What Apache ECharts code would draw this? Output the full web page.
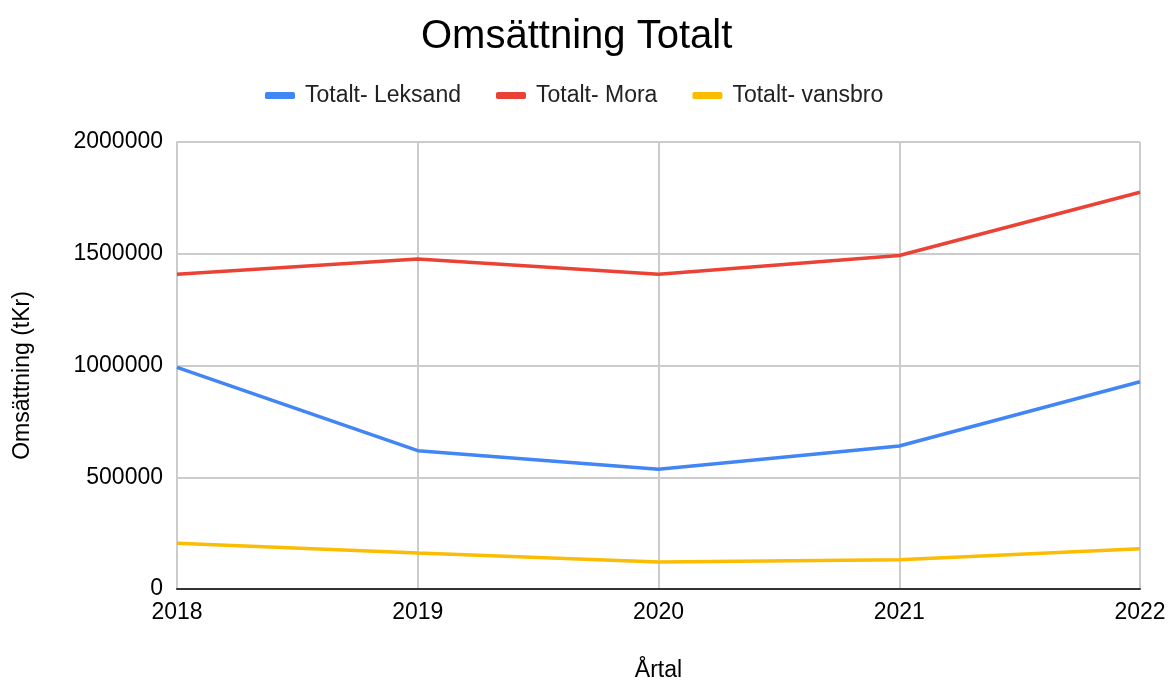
<!DOCTYPE html>
<html><head><meta charset="utf-8">
<script src="https://cdn.jsdelivr.net/npm/echarts@6/dist/echarts.min.js"></script>
<style>html,body{margin:0;padding:0;background:#fff}#c{width:1170px;height:682px}</style>
</head><body><div id="c"></div>
<script>
const years = ['2018','2019','2020','2021','2022'];
const leksand = [992000, 619000, 536000, 640000, 927000];
const mora = [1408000, 1476000, 1408000, 1492000, 1775000];
const vansbro = [205000, 161000, 121000, 131000, 180000];
const seriesNames = ['Totalt- Leksand','Totalt- Mora','Totalt- vansbro'];
const colors = ['#4285F4','#EA4335','#FBBC04'];
const font = 'Liberation Sans, Arial, sans-serif';

const chart = echarts.init(document.getElementById('c'));
const mk = (name, data, color) => ({
  name, type: 'line', data, showSymbol: false, symbol: 'none',
  lineStyle: {width: 3.5, color}, itemStyle: {color}
});
chart.setOption({
  animation: false,
  title: {text: 'Omsättning Totalt', left: 416, top: 12,
    textStyle: {fontFamily: font, fontSize: 40, fontWeight: 'normal', color: '#000'}},
  legend: {top: 79, left: 260, icon: 'roundRect', itemWidth: 30, itemHeight: 7, itemGap: 35,
    textStyle: {fontFamily: font, fontSize: 23, color: '#222', padding: [0, 0, 0, 5]}},
  grid: {left: 177, right: 30, top: 142, bottom: 93, outerBoundsMode: 'none', containLabel: false},
  xAxis: {type: 'category', data: years, boundaryGap: false,
    name: 'Årtal', nameLocation: 'middle', nameGap: 70,
    nameTextStyle: {fontFamily: font, fontSize: 23, color: '#000'},
    axisLine: {lineStyle: {color: '#333', width: 2}},
    axisTick: {show: false},
    axisLabel: {fontFamily: font, fontSize: 23, color: '#000', margin: 12},
    splitLine: {show: true, lineStyle: {color: '#ccc', width: 2}}},
  yAxis: {type: 'value', min: 0, max: 2000000, interval: 500000,
    name: 'Omsättning (tKr)', nameLocation: 'middle', nameGap: 143, nameRotate: 90,
    nameTextStyle: {fontFamily: font, fontSize: 23, color: '#000', padding: [0, 20, 0, 0]},
    axisLine: {show: true, lineStyle: {color: '#ccc', width: 2}},
    axisTick: {show: false},
    axisLabel: {fontFamily: font, fontSize: 23, color: '#000', margin: 14,
      formatter: v => String(v)},
    splitLine: {lineStyle: {color: '#ccc', width: 2}}},
  series: [mk(seriesNames[0], leksand, colors[0]), mk(seriesNames[1], mora, colors[1]), mk(seriesNames[2], vansbro, colors[2])]
});
</script></body></html>
